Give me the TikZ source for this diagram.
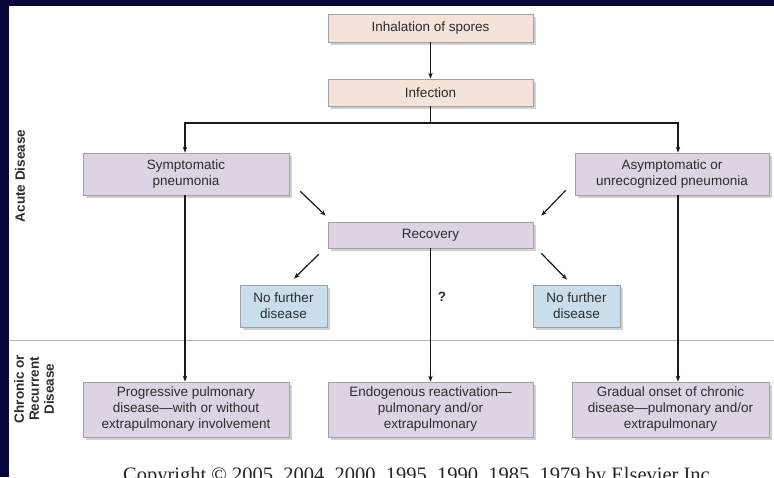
\documentclass[tikz,border=0pt]{standalone}
\usepackage{fontspec}
\setmainfont{Liberation Sans}
\newfontfamily\serifcopy{Liberation Serif}
\usetikzlibrary{arrows.meta,shadows}
\definecolor{navy}{RGB}{6,6,58}
\definecolor{tanfill}{RGB}{243,227,216}
\definecolor{purfill}{RGB}{221,211,226}
\definecolor{bluefill}{RGB}{201,221,235}
\definecolor{boxline}{RGB}{160,160,165}
\definecolor{txt}{RGB}{45,45,45}
\tikzset{
  basebox/.style={draw=boxline, line width=0.7pt, text=txt, align=center, inner sep=2pt,
    font=\fontsize{13.5}{16}\selectfont,
    drop shadow={shadow xshift=2.5pt, shadow yshift=-3pt, opacity=0.18, fill=black}},
  tanbox/.style={basebox, fill=tanfill},
  purbox/.style={basebox, fill=purfill},
  bluebox/.style={basebox, fill=bluefill},
  arr/.style={draw=black!90, line width=1.2pt, -{Stealth[length=6pt,width=4.5pt]}},
  plain/.style={draw=black!90, line width=1.2pt},
  sidelabel/.style={font=\bfseries\fontsize{13.5}{15}\selectfont, text=txt, rotate=90, align=center}
}
\begin{document}
\begin{tikzpicture}[x=1pt,y=-1pt]
\useasboundingbox (0,0) rectangle (774,477);
\clip (0,0) rectangle (774,477);
\fill[navy] (0,0) rectangle (774,477);
\fill[white] (9,6) rectangle (774,477);
\draw[black!30, line width=1pt] (9,340) -- (774,340);

\node[tanbox, minimum width=205, minimum height=28] (inh) at (430.5,28) {Inhalation of spores};
\node[tanbox, minimum width=205, minimum height=27] (inf) at (430.5,92.5) {Infection};
\node[purbox, minimum width=206, minimum height=42] (sym) at (186,174) {Symptomatic\\pneumonia};
\node[purbox, minimum width=194, minimum height=42] (asym) at (672,174) {Asymptomatic or\\unrecognized pneumonia};
\node[purbox, minimum width=205, minimum height=26] (rec) at (430.5,235) {Recovery};
\node[bluebox, minimum width=87, minimum height=42] (nf1) at (283.5,306) {No further\\disease};
\node[bluebox, minimum width=87, minimum height=42] (nf2) at (576.5,306) {No further\\disease};
\node[purbox, minimum width=206, minimum height=55] (prog) at (186,409.5) {Progressive pulmonary\\disease---with or without\\extrapulmonary involvement};
\node[purbox, minimum width=205, minimum height=55] (endo) at (430.5,409.5) {Endogenous reactivation---\\pulmonary and/or\\extrapulmonary};
\node[purbox, minimum width=197, minimum height=55] (grad) at (670.5,409.5) {Gradual onset of chronic\\disease---pulmonary and/or\\extrapulmonary};

\node[font=\bfseries\fontsize{13.5}{16}\selectfont, text=txt] (q) at (442,297) {?};
\node[sidelabel] (acute) at (20,176) {Acute Disease};
\node[sidelabel] (chronic) at (34,389) {Chronic or\\Recurrent\\Disease};
\node[font=\serifcopy\fontsize{20.5}{22}\selectfont, text=black!85, anchor=base] (copy) at (419,481.5) {Copyright \textcopyright{} 2005, 2004, 2000, 1995, 1990, 1985, 1979 by Elsevier Inc.};

\coordinate (j) at (430.5,123);
\draw[arr] (inh) -- (inf);
\draw[plain] (inf.south) -- (j);
\draw[arr] (j) -| ([xshift=-1pt]sym.north);
\draw[arr] (j) -| ([xshift=6pt]asym.north);
\draw[arr] ([xshift=-1pt]sym.south) -- ([xshift=-1pt]prog.north);
\draw[arr] (rec.south) -- (endo.north);
\draw[arr] ([xshift=6pt]asym.south) -- ([xshift=6pt]asym.south |- grad.north);

\draw[arr] ([shift={(11,-4)}]sym.south east) -- ([shift={(-2,-6)}]rec.north west);
\draw[arr] ([shift={(-9,-5)}]asym.south west) -- ([shift={(8,-6)}]rec.north east);
\draw[arr] ([shift={(-9,6)}]rec.south west) -- ([shift={(10.5,-6)}]nf1.north);
\draw[arr] ([shift={(8,5)}]rec.south east) -- ([shift={(-9.5,-5)}]nf2.north);
\end{tikzpicture}
\end{document}
